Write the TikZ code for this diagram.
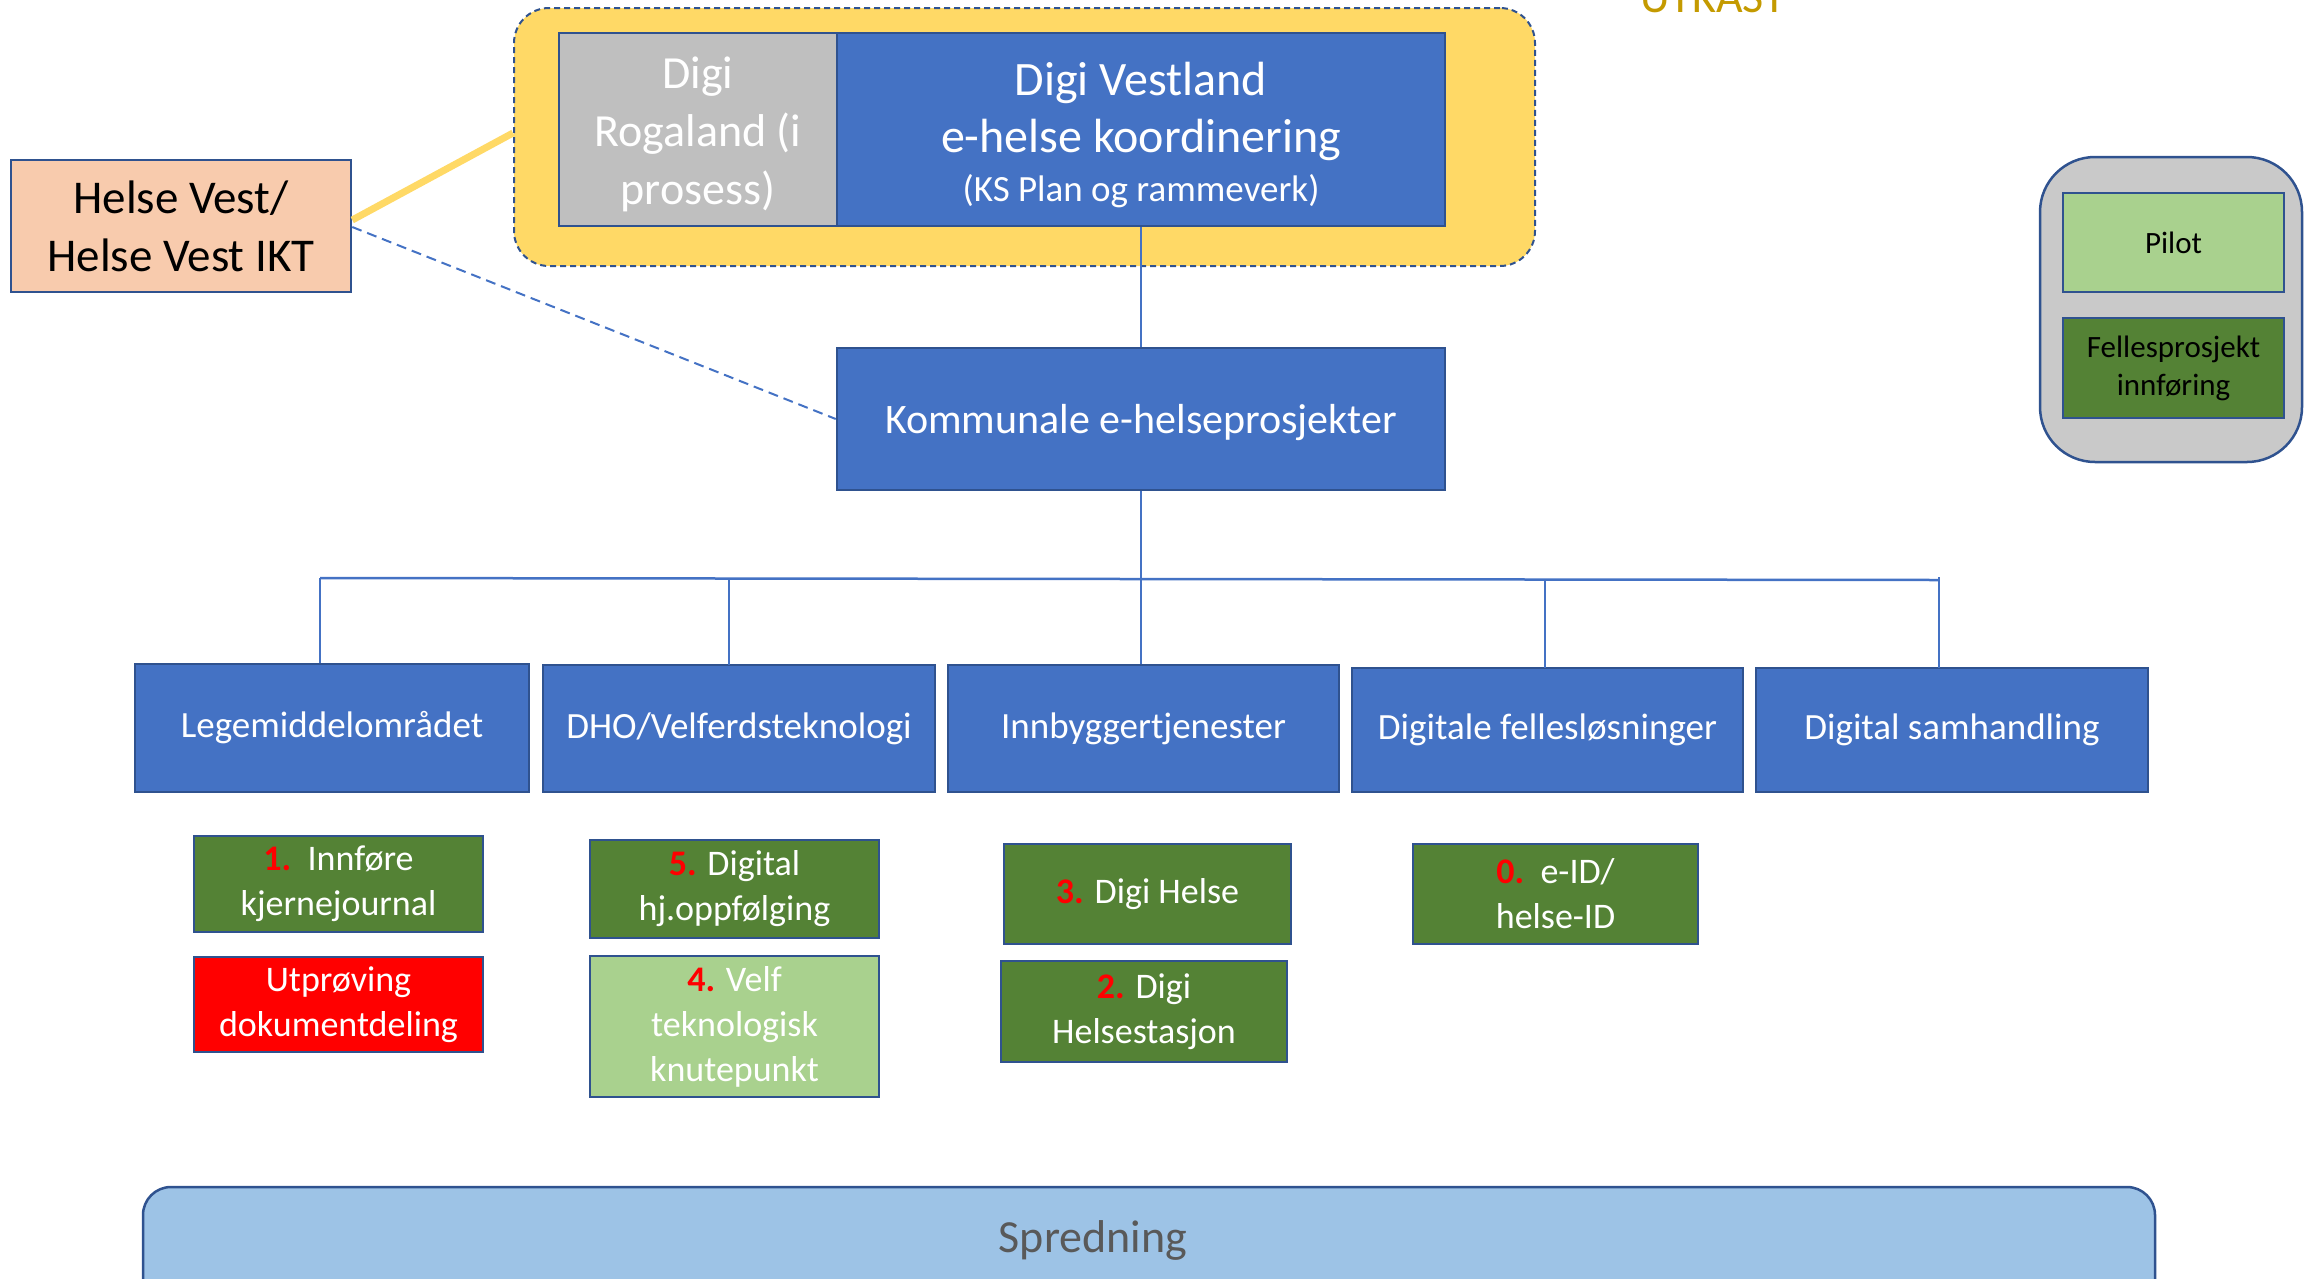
\documentclass[tikz,border=0pt]{standalone}
\usepackage{fontspec}
\setmainfont{Carlito}
\usetikzlibrary{calc}
\definecolor{bblue}{HTML}{4472C4}
\definecolor{bdark}{HTML}{2F528F}
\definecolor{rgray}{HTML}{BFBFBF}
\definecolor{gyellow}{HTML}{FFD966}
\definecolor{peach}{HTML}{F8CBAD}
\definecolor{dgreen}{HTML}{548235}
\definecolor{lgreen}{HTML}{A9D18E}
\definecolor{leggray}{HTML}{C9C9C9}
\definecolor{sblue}{HTML}{9DC3E6}
\definecolor{sgray}{HTML}{595959}
\definecolor{gold}{HTML}{C49A00}
\newcommand{\rn}[1]{\textcolor{red}{\textbf{#1}}}
\begin{document}
\begin{tikzpicture}[x=1pt,y=-1pt,
  boxbase/.style={draw=bdark, line width=2.5pt, inner sep=0pt, align=center},
  bluebox/.style={boxbase, fill=bblue, text=white},
  catbox/.style={bluebox, font=\fontsize{37}{45}\selectfont},
  subbox/.style={boxbase, fill=dgreen, text=white, font=\fontsize{36}{45}\selectfont},
  conn/.style={draw=bblue, line width=2pt},
]
\useasboundingbox (0,0) rectangle (2316,1278);

% top group
\node[draw=bdark, dashed, dash pattern=on 6pt off 4pt, line width=2pt, fill=gyellow, rounded corners=35pt,
  minimum width=1021pt, minimum height=258pt, inner sep=0pt] (grp) at (1024.5,137) {};
\node[boxbase, fill=rgray, text=white, minimum width=278pt, minimum height=193pt,
  font=\fontsize{46}{58}\selectfont] (rog) at (698,129.5) {};
\node[text=white, align=center, inner sep=0pt, font=\fontsize{46}{58}\selectfont] (rogt) at (698,134)
  {Digi\\Rogaland (i\\prosess)};
\node[bluebox, minimum width=608pt, minimum height=193pt] (dv) at (1141,129.5) {};
\node[text=white, align=center, inner sep=0pt, font=\fontsize{48}{57}\selectfont] (dvt) at (1141,135)
  {Digi Vestland\\e-helse koordinering\\[-8pt]{\fontsize{37}{44}\selectfont (KS Plan og rammeverk)}};

\node[boxbase, fill=peach, text=black, minimum width=340pt, minimum height=132pt,
  font=\fontsize{47}{58}\selectfont] (hv) at (181,226) {Helse Vest/\\Helse Vest IKT};

\node[bluebox, minimum width=608pt, minimum height=142pt] (kom) at (1141,419) {};
\node[text=white, inner sep=0pt, font=\fontsize{42}{50}\selectfont] (komt) at (1141,423) {Kommunale e-helseprosjekter};

% categories
\node[catbox, minimum width=394pt, minimum height=128pt] (leg) at (332,728) {Legemiddelområdet};
\node[catbox, minimum width=392pt, minimum height=127pt] (dho) at (739,728.5) {DHO/Velferdsteknologi};
\node[catbox, minimum width=391pt, minimum height=127pt] (inn) at (1143.5,728.5) {Innbyggertjenester};
\node[catbox, minimum width=391pt, minimum height=124pt] (dfl) at (1547.5,730) {Digitale fellesløsninger};
\node[catbox, minimum width=392pt, minimum height=124pt] (dsh) at (1952,730) {Digital samhandling};

% sub projects
\node[subbox, minimum width=289pt, minimum height=96pt] (s1) at (338.5,884) {\rn{1.}\ \ Innføre\\kjernejournal};
\node[subbox, fill=red, minimum width=289pt, minimum height=95pt] (sut) at (338.5,1004.5) {Utprøving\\dokumentdeling};
\node[subbox, minimum width=289pt, minimum height=98pt] (s5) at (734.5,889) {\rn{5.} Digital\\hj.oppfølging};
\node[subbox, fill=lgreen, minimum width=289pt, minimum height=141pt] (s4) at (734.5,1026.5) {\rn{4.} Velf\\teknologisk\\knutepunkt};
\node[subbox, minimum width=287pt, minimum height=100pt] (s3) at (1147.5,894) {\rn{3.} Digi Helse};
\node[subbox, minimum width=286pt, minimum height=101pt] (s2) at (1144,1011.5) {\rn{2.} Digi\\Helsestasjon};
\node[subbox, minimum width=285pt, minimum height=100pt] (s0) at (1555.5,894) {\rn{0.}\ \ e-ID/\\helse-ID};

% legend
\node[boxbase, fill=leggray, rounded corners=55pt, minimum width=262pt, minimum height=305pt] (lg) at (2171,309.5) {};
\node[boxbase, fill=lgreen, text=black, minimum width=221pt, minimum height=99pt,
  font=\fontsize{31}{38}\selectfont] (lp) at (2173.5,242.5) {Pilot};
\node[boxbase, fill=dgreen, text=black, minimum width=221pt, minimum height=100pt,
  font=\fontsize{31}{38}\selectfont] (lf) at (2173.5,368) {Fellesprosjekt\\innføring};

% spredning
\node[draw=bdark, line width=2.5pt, fill=sblue, rounded corners=28pt, minimum width=2012pt,
  minimum height=150pt, inner sep=0pt] (spr) at (1149,1262) {};
\node[text=sgray, font=\fontsize{46}{55}\selectfont] (sprt) at (1093,1240) {Spredning};

% draft mark
\node[anchor=base west, text=gold, inner sep=0pt, font=\fontsize{46}{50}\selectfont] (utk) at (1640,12) {UTKAST};

% connectors
\draw[gyellow, line width=7pt] ($(hv.east)+(0,-6)$) -- ($(grp.west)+(0,-4)$);
\draw[bblue, line width=2pt, dash pattern=on 10pt off 6pt] ($(hv.east)+(0,1)$) -- (kom.west);
\draw[conn] (dv.south) -- (kom.north);
\draw[conn] (kom.south) -- (kom.south |- inn.north);
\coordinate (bl) at (320,578);
\coordinate (br) at (1939,580);
\draw[conn, line width=2.5pt] (bl) -- (br);
\draw[conn] (bl) -- (bl |- leg.north);
\draw[conn] (729,578) -- (729,665);
\draw[conn] (1545,579.5) -- (1545,668);
\draw[conn] (1939,577) -- (1939,668);
\end{tikzpicture}
\end{document}
